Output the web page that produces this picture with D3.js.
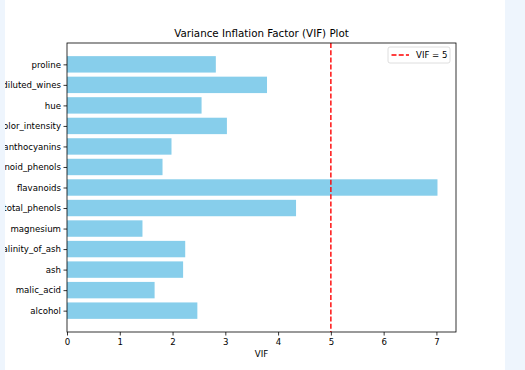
<!DOCTYPE html>
<html>
<head>
<meta charset="utf-8">
<script src="https://cdn.jsdelivr.net/npm/d3@7"></script>
<style>
  body { margin: 0; background: #fff; }
  svg text { font-family: "DejaVu Sans", sans-serif; }
</style>
</head>
<body>
<div class="chart"></div>
<script>
const width = 525,
    height = 370,
    margin = {top: 43, right: 69, bottom: 38, left: 67};

// features, bottom to top as plotted
const features = ["alcohol", "malic_acid", "ash", "alcalinity_of_ash", "magnesium",
    "total_phenols", "flavanoids", "nonflavanoid_phenols", "proanthocyanins",
    "color_intensity", "hue", "od280/od315_of_diluted_wines", "proline"];
const vifValues = [2.47, 1.66, 2.20, 2.24, 1.43, 4.34, 7.02, 1.81, 1.98, 3.03, 2.55, 3.79, 2.82];
const xTicks = [0, 1, 2, 3, 4, 5, 6, 7];
const threshold = 5;

const svg = d3.select(".chart").append("svg")
    .attr("width", width)
    .attr("height", height);

const x = d3.scaleLinear()
    .domain([0, d3.max(vifValues) * 1.05])
    .range([margin.left, width - margin.right]);

// matplotlib-like band: centres at integer positions, 0.8 bar height
const n = features.length;
const y = d3.scaleLinear()
    .domain([-0.4 - 0.05 * (n - 0.2), n - 0.6 + 0.05 * (n - 0.2)])
    .range([height - margin.bottom, margin.top]);
const barH = y(0) - y(0.8);

svg.append("g")
    .selectAll("rect")
    .data(vifValues)
    .enter().append("rect")
    .attr("x", x(0))
    .attr("y", (d, i) => y(i) - barH / 2)
    .attr("width", d => x(d) - x(0))
    .attr("height", barH)
    .attr("fill", "#87ceeb");

svg.append("line")
    .attr("x1", x(threshold)).attr("x2", x(threshold))
    .attr("y1", margin.top).attr("y2", height - margin.bottom)
    .attr("stroke", "#ff0000")
    .attr("stroke-width", 1.4)
    .attr("stroke-dasharray", "5,2.2");

const xAxis = svg.append("g")
    .attr("transform", `translate(0,${height - margin.bottom})`)
    .call(d3.axisBottom(x).tickValues(xTicks).tickSize(3.5).tickPadding(3));
const yAxis = svg.append("g")
    .attr("transform", `translate(${margin.left},0)`)
    .call(d3.axisLeft(y).tickValues(d3.range(n)).tickFormat(i => features[i]).tickSize(3.5).tickPadding(2.5));

[xAxis, yAxis].forEach(a => {
  a.select(".domain").remove();
  a.selectAll("line").attr("stroke", "#000").attr("stroke-width", 0.8);
  a.selectAll("text").attr("font-size", "8.6px").attr("fill", "#000")
      .style("font-family", "'DejaVu Sans', sans-serif");
});

// frame
svg.append("rect")
    .attr("x", margin.left)
    .attr("y", margin.top)
    .attr("width", width - margin.left - margin.right)
    .attr("height", height - margin.top - margin.bottom)
    .attr("fill", "none")
    .attr("stroke", "#000")
    .attr("stroke-width", 0.8);

svg.append("text")
    .attr("x", (margin.left + width - margin.right) / 2)
    .attr("y", 37)
    .attr("text-anchor", "middle")
    .attr("font-size", "10.3px")
    .text("Variance Inflation Factor (VIF) Plot");

svg.append("text")
    .attr("x", (margin.left + width - margin.right) / 2)
    .attr("y", 357)
    .attr("text-anchor", "middle")
    .attr("font-size", "8.6px")
    .text("VIF");

// legend
const legend = svg.append("g").attr("transform", "translate(388,47)");
legend.append("rect")
    .attr("width", 62).attr("height", 16).attr("rx", 2)
    .attr("fill", "#fff").attr("stroke", "#d6d6d6").attr("stroke-width", 0.8);
legend.append("line")
    .attr("x1", 3.5).attr("x2", 21).attr("y1", 8).attr("y2", 8)
    .attr("stroke", "#ff0000").attr("stroke-width", 1.4)
    .attr("stroke-dasharray", "5,2.2");
legend.append("text")
    .attr("x", 28).attr("y", 11)
    .attr("font-size", "8.6px")
    .text("VIF = " + threshold);

// page strips around the figure
svg.append("rect").attr("x", 0).attr("y", 0).attr("width", 5).attr("height", height).attr("fill", "#eef5fd");
svg.append("rect").attr("x", 505).attr("y", 0).attr("width", 20).attr("height", height).attr("fill", "#eef5fd");
</script>
</body>
</html>
